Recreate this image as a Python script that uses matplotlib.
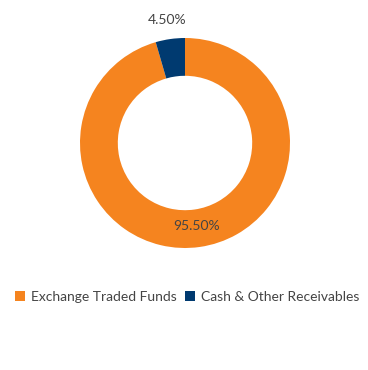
import numpy as np
import matplotlib.pyplot as plt

categories = ['Exchange Traded Funds', 'Cash & Other Receivables']
values = [95.50, 4.50]
colors = ['#F5841F', '#003A70']

plt.rcParams['font.family'] = ['Lato', 'DejaVu Sans']

fig = plt.figure(figsize=(3.68, 3.70), dpi=100)
ax = fig.add_axes([80 / 368, 1 - 248 / 370, 210 / 368, 210 / 370])

wedges, _ = ax.pie(values, colors=colors, startangle=90, counterclock=False,
                   radius=1.0, wedgeprops=dict(width=0.36, edgecolor='none'))

# percent labels: big slice inside the ring, small one outside
dists = [0.8, 1.18]
for w, v, d in zip(wedges, values, dists):
    ang = np.deg2rad((w.theta1 + w.theta2) / 2)
    ax.text(d * np.cos(ang), d * np.sin(ang), f'{v:.2f}%', ha='center', va='center',
            fontsize=10, color='#444444')

ax.set_xlim(-1, 1)
ax.set_ylim(-1, 1)
ax.set_aspect('equal')
ax.axis('off')

fig.legend(wedges, categories, loc='center', bbox_to_anchor=(187 / 368, 1 - 297 / 370),
           ncol=2, frameon=False, fontsize=10, handlelength=0.75, handleheight=0.75,
           handletextpad=0.4, columnspacing=0.6, labelcolor='#444444')

fig.savefig('out.png', dpi=100, facecolor='white')
